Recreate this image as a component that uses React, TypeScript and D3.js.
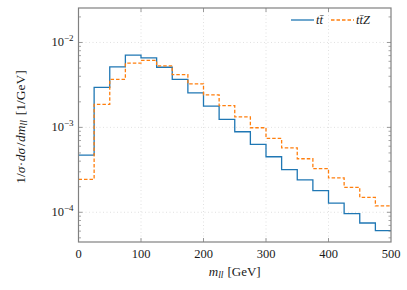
import React from "react";
import * as d3 from "d3";

const binEdges = [0, 25, 50, 75, 100, 125, 150, 175, 200, 225, 250, 275, 300, 325, 350, 375, 400, 425, 450, 475, 500];
const ttbar = [4.72e-4, 2.96e-3, 5.16e-3, 7.09e-3, 6.59e-3, 5.11e-3, 3.68e-3, 2.55e-3, 1.78e-3, 1.24e-3, 8.88e-4, 6.31e-4, 4.51e-4, 3.18e-4, 2.41e-4, 1.8e-4, 1.28e-4, 9.62e-5, 7.48e-5, 6.08e-5];
const ttZ = [2.44e-4, 1.87e-3, 3.67e-3, 5.7e-3, 6.14e-3, 5.31e-3, 4.17e-3, 3.26e-3, 2.42e-3, 1.8e-3, 1.33e-3, 9.9e-4, 7.43e-4, 5.75e-4, 4.27e-4, 3.26e-4, 2.54e-4, 1.97e-4, 1.5e-4, 1.19e-4];
const xTicks = [0, 100, 200, 300, 400, 500];
const yMajor = [-4, -3, -2];

const W = 407, H = 290;
const L = 78.5, R = 391, T = 8, B = 242;
const FONT = "Liberation Serif";
const BLUE = "#1f77b4";
const ORANGE = "#ff7f0e";
const FRAME = "#808080";
const TXT = "#1a1a1a";

export default function App() {
  const x = d3.scaleLinear().domain([0, 500]).range([L, R]);
  const y = d3.scaleLog().domain([Math.pow(10, -4.35), Math.pow(10, -1.594)]).range([B, T]);

  const minor: number[] = [];
  for (let e = -5; e <= -2; e++) {
    for (let m = 2; m <= 9; m++) {
      const v = m * Math.pow(10, e);
      if (v >= y.domain()[0] && v <= y.domain()[1]) minor.push(v);
    }
  }

  const stepPath = (vals: number[]) => {
    const pts: [number, number][] = vals.map((v, i) => [binEdges[i], v]);
    pts.push([binEdges[binEdges.length - 1], vals[vals.length - 1]]);
    return d3
      .line<[number, number]>()
      .x((d) => x(d[0]))
      .y((d) => y(d[1]))
      .curve(d3.curveStepAfter)(pts) as string;
  };

  const legY = 20;

  return (
    <svg width={W} height={H} style={{ position: "absolute", left: 0, top: 0 }} fontFamily={FONT}>
      <rect x={0} y={0} width={W} height={H} fill="white" />
      {xTicks.slice(1, -1).map((t) => (
        <line key={"gx" + t} x1={x(t)} x2={x(t)} y1={T} y2={B} stroke="#d9d9d9" strokeWidth={0.8} strokeDasharray="1,2.5" />
      ))}
      {yMajor.map((e) => (
        <line key={"gy" + e} x1={L} x2={R} y1={y(Math.pow(10, e))} y2={y(Math.pow(10, e))} stroke="#d9d9d9" strokeWidth={0.8} strokeDasharray="1,2.5" />
      ))}
      <path d={stepPath(ttbar)} fill="none" stroke={BLUE} strokeWidth={1.3} />
      <path d={stepPath(ttZ)} fill="none" stroke={ORANGE} strokeWidth={1.3} strokeDasharray="3.5,2" />
      {xTicks.slice(1, -1).map((t) => (
        <g key={"tx" + t}>
          <line x1={x(t)} x2={x(t)} y1={B} y2={B - 4} stroke={FRAME} strokeWidth={0.8} />
          <line x1={x(t)} x2={x(t)} y1={T} y2={T + 4} stroke={FRAME} strokeWidth={0.8} />
        </g>
      ))}
      {yMajor.map((e) => (
        <g key={"ty" + e}>
          <line x1={L} x2={L + 4} y1={y(Math.pow(10, e))} y2={y(Math.pow(10, e))} stroke={FRAME} strokeWidth={0.8} />
          <line x1={R} x2={R - 4} y1={y(Math.pow(10, e))} y2={y(Math.pow(10, e))} stroke={FRAME} strokeWidth={0.8} />
        </g>
      ))}
      {minor.map((v, i) => (
        <g key={"my" + i}>
          <line x1={L} x2={L + 2.5} y1={y(v)} y2={y(v)} stroke={FRAME} strokeWidth={0.7} />
          <line x1={R} x2={R - 2.5} y1={y(v)} y2={y(v)} stroke={FRAME} strokeWidth={0.7} />
        </g>
      ))}
      <rect x={L} y={T} width={R - L} height={B - T} fill="none" stroke={FRAME} strokeWidth={1.2} />
      {xTicks.map((t) => (
        <text key={"lx" + t} x={x(t)} y={B + 16} textAnchor="middle" fontSize={12.5} fill={TXT}>
          {t}
        </text>
      ))}
      {yMajor.map((e) => (
        <text key={"ly" + e} x={L - 5} y={y(Math.pow(10, e)) + 4} textAnchor="end" fontSize={12.5} fill={TXT}>
          10
          <tspan dy={-5} fontSize={9}>
            {"\u2212" + Math.abs(e)}
          </tspan>
        </text>
      ))}
      <text x={(L + R) / 2} y={276} textAnchor="middle" fontSize={13} fill={TXT}>
        <tspan fontStyle="italic">m</tspan>
        <tspan fontStyle="italic" fontSize={9.5} dy={2}>ll</tspan>
        <tspan dy={-2} dx={4}>[GeV]</tspan>
      </text>
      <text transform={`translate(25,${(T + B) / 2 + 2}) rotate(-90)`} textAnchor="middle" fontSize={13.5} fill={TXT}>
        <tspan>1/</tspan>
        <tspan fontStyle="italic">σ</tspan>
        <tspan dx={0.5}>·</tspan>
        <tspan fontStyle="italic" dx={0.5}>dσ</tspan>
        <tspan dx={1.5}>/</tspan>
        <tspan fontStyle="italic" dx={0.5}>dm</tspan>
        <tspan fontStyle="italic" fontSize={9.5} dy={2}>ll</tspan>
        <tspan dy={-2} dx={5}>[1/GeV]</tspan>
      </text>
      <line x1={291} x2={314} y1={legY} y2={legY} stroke={BLUE} strokeWidth={1.3} />
      <text x={316} y={legY + 4} fontSize={12.5} fontStyle="italic" fill={TXT}>
        {"tt\u0304"}
      </text>
      <line x1={331} x2={354} y1={legY} y2={legY} stroke={ORANGE} strokeWidth={1.3} strokeDasharray="3.5,2" />
      <text x={356} y={legY + 4} fontSize={12.5} fontStyle="italic" fill={TXT}>
        {"tt\u0304Z"}
      </text>
    </svg>
  );
}
